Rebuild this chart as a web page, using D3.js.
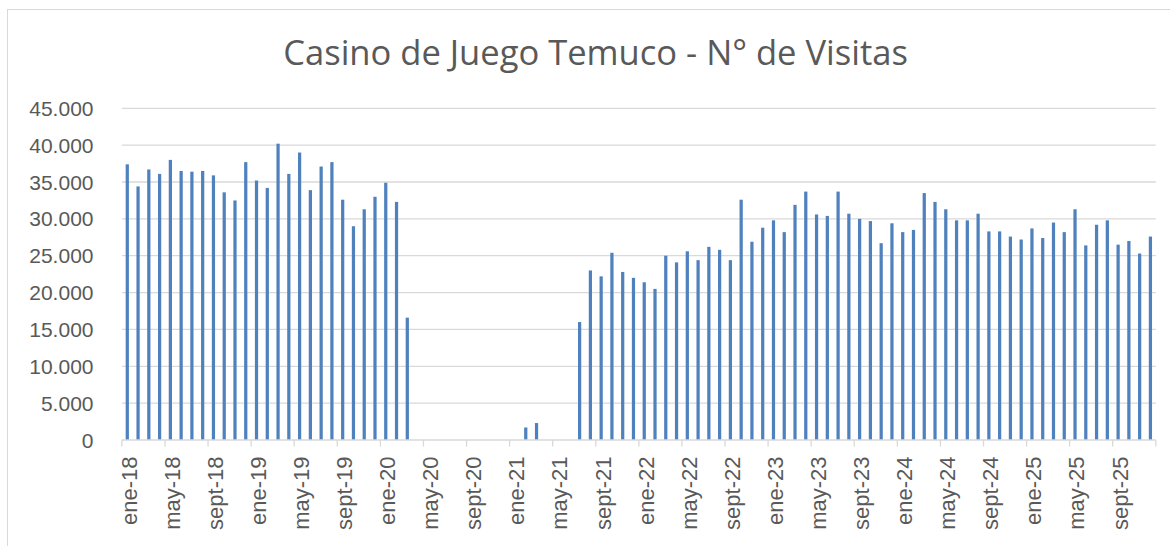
<!DOCTYPE html>
<html>
<head>
<meta charset="utf-8">
<script src="https://cdn.jsdelivr.net/npm/d3@7"></script>
<style>
  html, body { margin: 0; padding: 0; background: #fff; }
  svg { display: block; }
</style>
</head>
<body>
<svg id="chart" width="1170" height="546"></svg>
<script>
// ---- data ----
const monthNames = ["ene","feb","mar","abr","may","jun","jul","ago","sept","oct","nov","dic"];
const years = ["18","19","20","21","22","23","24","25"];
const visits2018 = [37400, 34400, 36700, 36100, 38000, 36500, 36400, 36500, 35900, 33600, 32500, 37700];
const visits2019 = [35200, 34200, 40200, 36100, 39000, 33900, 37100, 37700, 32600, 29000, 31300, 33000];
const visits2020 = [34900, 32300, 16600, 0, 0, 0, 0, 0, 0, 0, 0, 0];
const visits2021 = [0, 1700, 2300, 0, 0, 0, 16000, 23000, 22200, 25400, 22800, 22000];
const visits2022 = [21400, 20500, 25000, 24100, 25600, 24400, 26200, 25800, 24400, 32600, 26900, 28800];
const visits2023 = [29800, 28200, 31900, 33700, 30600, 30400, 33700, 30700, 30000, 29700, 26700, 29400];
const visits2024 = [28200, 28500, 33500, 32300, 31300, 29800, 29800, 30700, 28300, 28300, 27600, 27200];
const visits2025 = [28700, 27400, 29500, 28200, 31300, 26400, 29200, 29800, 26500, 27000, 25300, 27600];
const yTicks = [0, 5000, 10000, 15000, 20000, 25000, 30000, 35000, 40000, 45000];
const titleText = "Casino de Juego Temuco - N° de Visitas";

// ---- build table ----
const allVisits = [visits2018, visits2019, visits2020, visits2021, visits2022, visits2023, visits2024, visits2025];
const data = [];
years.forEach((yr, yi) => monthNames.forEach((m, mi) => {
  data.push({ label: m + "-" + yr, value: allVisits[yi][mi] });
}));

// ---- layout ----
const svg = d3.select("#chart");
const plotL = 121.9, plotR = 1155.8, plotT = 108.3, plotB = 440;
const fmt = d3.formatLocale({ decimal: ",", thousands: ".", grouping: [3], currency: ["$", ""] }).format(",");

// chart border
svg.append("rect").attr("x", 7.5).attr("y", 9.5).attr("width", 1200).attr("height", 600)
  .attr("fill", "none").attr("stroke", "#d9d9d9").attr("stroke-width", 1);

const x = d3.scaleBand().domain(data.map(d => d.label)).range([plotL, plotR])
  .paddingInner(0.7).paddingOuter(0.35);
const y = d3.scaleLinear().domain([0, 45000]).range([plotB, plotT]);

// gridlines
svg.append("g").selectAll("line").data(yTicks.filter(t => t > 0)).join("line")
  .attr("x1", plotL).attr("x2", plotR)
  .attr("y1", d => y(d)).attr("y2", d => y(d))
  .attr("stroke", "#d9d9d9").attr("stroke-width", 1.3);

// y labels
svg.append("g").selectAll("text").data(yTicks).join("text")
  .attr("x", 93.5).attr("y", d => y(d)).attr("dy", "0.36em")
  .attr("text-anchor", "end")
  .attr("font-family", "Liberation Sans, Arial, sans-serif").attr("font-size", 21)
  .attr("fill", "#595959")
  .text(d => fmt(d));

// bars
svg.append("g").selectAll("rect").data(data).join("rect")
  .attr("x", d => x(d.label)).attr("width", x.bandwidth())
  .attr("y", d => y(d.value)).attr("height", d => y(0) - y(d.value))
  .attr("fill", "#4f81bd");

// x axis line and ticks (category boundaries every 4 months)
const step = x.step();
svg.append("line").attr("x1", plotL).attr("x2", plotR).attr("y1", plotB).attr("y2", plotB)
  .attr("stroke", "#d9d9d9").attr("stroke-width", 1.3);
const tickIdx = d3.range(0, data.length + 1, 4);
svg.append("g").selectAll("line").data(tickIdx).join("line")
  .attr("x1", i => plotL + i * step).attr("x2", i => plotL + i * step)
  .attr("y1", plotB).attr("y2", plotB + 6.5)
  .attr("stroke", "#d9d9d9").attr("stroke-width", 1.3);

// x labels
const labelData = data.filter((d, i) => i % 4 === 0);
svg.append("g").selectAll("text").data(labelData).join("text")
  .attr("transform", d => `translate(${x(d.label) + x.bandwidth() / 2 + 1.5},${plotB + 16.5}) rotate(-90)`)
  .attr("dy", "0.36em")
  .attr("text-anchor", "end")
  .attr("font-family", "Liberation Sans, Arial, sans-serif").attr("font-size", 22)
  .attr("fill", "#595959")
  .text(d => d.label);

// title
const title = svg.append("text")
  .attr("x", 595.6).attr("y", 65)
  .attr("text-anchor", "middle")
  .attr("font-family", "Open Sans, sans-serif").attr("font-size", 36)
  .attr("fill", "#595959")
  .text(titleText);
const tw = title.node().getComputedTextLength();
title.attr("font-size", 36 * 625 / tw);
</script>
</body>
</html>
